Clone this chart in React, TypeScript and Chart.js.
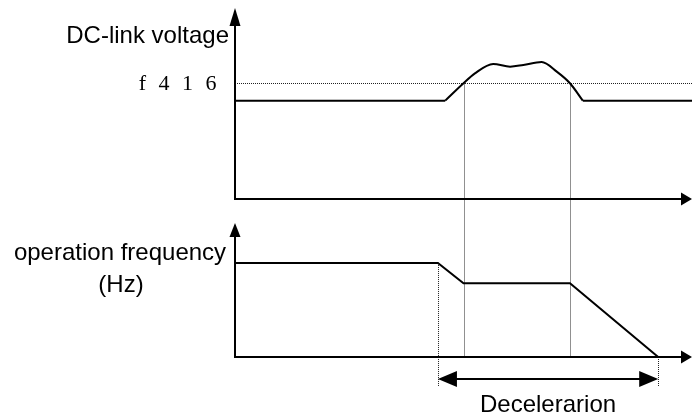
import React, { useEffect, useRef } from "react";
import { Chart, registerables } from "chart.js";

Chart.register(...registerables);

// ---- data (arbitrary time units 0..100) ----
const timeRange = [0, 100];

// DC-link voltage (arbitrary units, axis 0..100)
const voltageRange = [0, 100];
const voltLeftT = [0, 46];
const voltLeftV = [51.5, 51.5];
const voltHumpT = [46, 50, 52.5, 56.5, 60.2, 63.1, 67.1, 70.4, 73.3, 76.1];
const voltHumpV = [51.5, 60.6, 65.8, 70.7, 69.3, 70.2, 71.7, 66.7, 60.6, 51.5];
const voltRightT = [76.1, 100];
const voltRightV = [51.5, 51.5];
const f416Level = 60.6;

// operation frequency (Hz)
const freqRange = [0, 84];
const freqAxisTop = 71.3;
const freqT = [0, 44.4, 50, 73.3, 92.6];
const freqV = [50, 50, 39.2, 39.2, 0];

// guide times
const crossTimes = [50, 73.3];
const decelStart = 44.4;
const decelEnd = 92.6;

// labels
const voltageLabel = "DC-link voltage";
const f416Label = "f 4 1 6";
const freqLabel1 = "operation frequency";
const freqLabel2 = "(Hz)";
const decelLabel = "Decelerarion";

const pts = (t: number[], v: number[]) => t.map((x, i) => ({ x, y: v[i] }));

const SANS = '24px "Liberation Sans", Arial, sans-serif';
const SERIF = '22px "Liberation Serif", "Times New Roman", serif';

function arrowHead(ctx: CanvasRenderingContext2D, tipX: number, tipY: number, dir: "up" | "right" | "left", len: number, half: number) {
  ctx.beginPath();
  if (dir === "up") {
    ctx.moveTo(tipX, tipY);
    ctx.lineTo(tipX - half, tipY + len);
    ctx.lineTo(tipX + half, tipY + len);
  } else if (dir === "right") {
    ctx.moveTo(tipX, tipY);
    ctx.lineTo(tipX - len, tipY - half);
    ctx.lineTo(tipX - len, tipY + half);
  } else {
    ctx.moveTo(tipX, tipY);
    ctx.lineTo(tipX + len, tipY - half);
    ctx.lineTo(tipX + len, tipY + half);
  }
  ctx.closePath();
  ctx.fill();
}

const overlay = {
  id: "overlay",
  beforeDatasetsDraw(chart: any) {
    const ctx: CanvasRenderingContext2D = chart.ctx;
    const { x, yV, yF } = chart.scales;
    const area = chart.chartArea;
    ctx.save();
    ctx.strokeStyle = "#222";
    ctx.lineWidth = 1;
    ctx.setLineDash([1, 1]);
    // f416 level
    const yf = Math.round(yV.getPixelForValue(f416Level)) + 0.5;
    ctx.beginPath();
    ctx.moveTo(area.left, yf);
    ctx.lineTo(area.right, yf);
    ctx.stroke();
    // crossing guides
    crossTimes.forEach((t) => {
      const px = Math.round(x.getPixelForValue(t)) + 0.5;
      ctx.beginPath();
      ctx.moveTo(px, yf);
      ctx.lineTo(px, yF.getPixelForValue(0));
      ctx.stroke();
    });
    // deceleration guides
    const arrowY = yF.getPixelForValue(0) + 30;
    const sx = Math.round(x.getPixelForValue(decelStart)) + 0.5;
    ctx.beginPath();
    ctx.moveTo(sx, yF.getPixelForValue(freqV[1]));
    ctx.lineTo(sx, arrowY);
    ctx.stroke();
    const ex = Math.round(x.getPixelForValue(decelEnd)) + 0.5;
    ctx.beginPath();
    ctx.moveTo(ex, yF.getPixelForValue(0));
    ctx.lineTo(ex, arrowY);
    ctx.stroke();
    ctx.restore();
  },
  afterDatasetsDraw(chart: any) {
    const ctx: CanvasRenderingContext2D = chart.ctx;
    const { x, yV, yF } = chart.scales;
    const area = chart.chartArea;
    ctx.save();
    ctx.strokeStyle = "#000";
    ctx.fillStyle = "#000";
    ctx.lineWidth = 2;
    ctx.setLineDash([]);
    const ax = area.left;
    // top panel axes
    const topBase = yV.getPixelForValue(0);
    const topTip = yV.getPixelForValue(voltageRange[1]);
    ctx.beginPath();
    ctx.moveTo(ax, topBase);
    ctx.lineTo(ax, topTip + 10);
    ctx.stroke();
    arrowHead(ctx, ax, topTip, "up", 18, 5.5);
    ctx.beginPath();
    ctx.moveTo(ax - 1, topBase);
    ctx.lineTo(area.right - 8, topBase);
    ctx.stroke();
    arrowHead(ctx, area.right, topBase, "right", 11, 6.5);
    // bottom panel axes
    const botBase = yF.getPixelForValue(0);
    const botTip = yF.getPixelForValue(freqAxisTop);
    ctx.beginPath();
    ctx.moveTo(ax, botBase);
    ctx.lineTo(ax, botTip + 10);
    ctx.stroke();
    arrowHead(ctx, ax, botTip, "up", 14, 5.5);
    ctx.beginPath();
    ctx.moveTo(ax - 1, botBase);
    ctx.lineTo(area.right - 8, botBase);
    ctx.stroke();
    arrowHead(ctx, area.right, botBase, "right", 11, 6.5);
    // deceleration double arrow
    const arrowY = botBase + 22;
    const sx = x.getPixelForValue(decelStart);
    const ex = x.getPixelForValue(decelEnd);
    ctx.beginPath();
    ctx.moveTo(sx + 10, arrowY);
    ctx.lineTo(ex - 10, arrowY);
    ctx.stroke();
    arrowHead(ctx, sx, arrowY, "left", 19, 8);
    arrowHead(ctx, ex, arrowY, "right", 19, 8);

    // texts
    ctx.font = SANS;
    ctx.textBaseline = "alphabetic";
    ctx.textAlign = "right";
    ctx.fillText(voltageLabel, ax - 6, topTip + 35);
    ctx.textAlign = "center";
    ctx.fillText(freqLabel1, 120, yF.getPixelForValue(freqV[0]) - 3);
    ctx.fillText(freqLabel2, 121, yF.getPixelForValue(freqV[0]) + 29);
    ctx.fillText(decelLabel, (sx + ex) / 2, botBase + 55);
    ctx.font = SERIF;
    ctx.textAlign = "right";
    (ctx as any).letterSpacing = "3.5px";
    ctx.fillText(f416Label, ax - 15, yV.getPixelForValue(f416Level) + 7);
    ctx.restore();
  },
};

export default function App() {
  const ref = useRef<HTMLCanvasElement>(null);
  useEffect(() => {
    if (!ref.current) return;
    const line = { borderColor: "#000", borderWidth: 2, pointRadius: 0, fill: false };
    const chart = new Chart(ref.current, {
      type: "line",
      data: {
        datasets: [
          { ...line, label: "voltage-left", data: pts(voltLeftT, voltLeftV), yAxisID: "yV" },
          { ...line, label: "voltage-hump", data: pts(voltHumpT, voltHumpV), yAxisID: "yV", cubicInterpolationMode: "monotone" },
          { ...line, label: "voltage-right", data: pts(voltRightT, voltRightV), yAxisID: "yV" },
          { ...line, label: "frequency", data: pts(freqT, freqV), yAxisID: "yF" },
        ] as any,
      },
      options: {
        responsive: false,
        animation: false,
        layout: { padding: { left: 235, right: 0, top: 8, bottom: 59 } },
        plugins: { legend: { display: false }, tooltip: { enabled: false } },
        events: [],
        scales: {
          x: { type: "linear", min: timeRange[0], max: timeRange[1], display: false },
          // left stacked boxes are placed in reverse order: the last one ends up on top
          yF: { type: "linear", position: "left", stack: "panels", stackWeight: 158, min: freqRange[0], max: freqRange[1], display: false },
          yV: { type: "linear", position: "left", stack: "panels", stackWeight: 191, min: voltageRange[0], max: voltageRange[1], display: false },
        } as any,
      },
      plugins: [overlay],
    });
    return () => chart.destroy();
  }, []);
  return (
    <div style={{ position: "absolute", left: 0, top: 0, width: 692, height: 416, background: "#fff" }}>
      <canvas ref={ref} width={692} height={416} style={{ display: "block" }} />
    </div>
  );
}
